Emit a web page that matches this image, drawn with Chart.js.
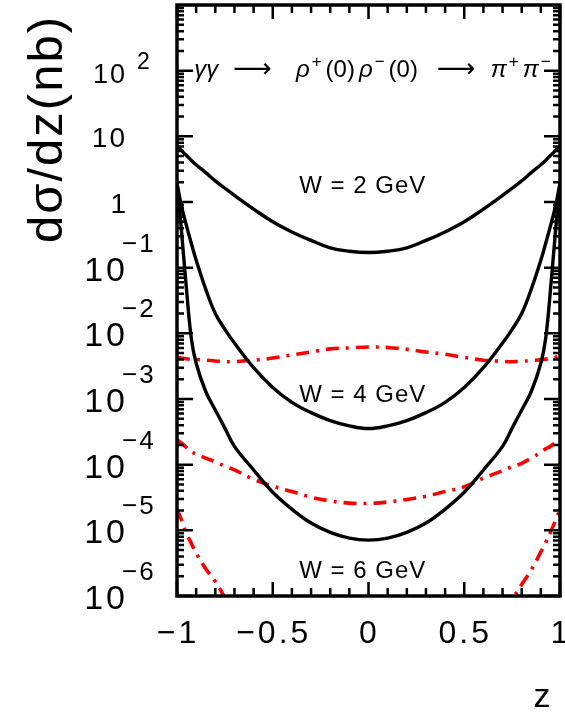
<!DOCTYPE html>
<html>
<head>
<meta charset="utf-8">
<script src="https://cdn.jsdelivr.net/npm/chart.js@4.4.1/dist/chart.umd.min.js"></script>
<style>
html,body{margin:0;padding:0;background:#fff;}
canvas{display:block;}
</style>
</head>
<body>
<canvas id="grafico" width="565" height="721"></canvas>
<script>
// ==============================
// DATOS
// ==============================

const zVals = [-1,-0.975,-0.95,-0.925,-0.9,-0.85,-0.8,-0.75,-0.7,-0.6,-0.5,-0.4,-0.3,-0.2,-0.1,0,
  0.1,0.2,0.3,0.4,0.5,0.6,0.7,0.75,0.8,0.85,0.9,0.925,0.95,0.975,1];

// solid black, W = 2, 4, 6 GeV
const w2 = [7.2,6.0,5.1,4.3,3.7,2.8,2.1,1.62,1.26,0.78,0.50,0.35,0.26,0.20,0.178,0.17,
  0.178,0.20,0.26,0.35,0.50,0.78,1.26,1.62,2.1,2.8,3.7,4.3,5.1,6.0,7.2];
const w4 = [1.9,0.83,0.43,0.234,0.13,0.047,0.02,0.0115,7.1e-3,3.0e-3,1.5e-3,8.9e-4,6.2e-4,4.7e-4,3.9e-4,3.55e-4,
  3.9e-4,4.7e-4,6.2e-4,8.9e-4,1.5e-3,3.0e-3,7.1e-3,0.0115,0.02,0.047,0.13,0.234,0.43,0.83,1.9];
const w6 = [2.0,0.32,0.045,8.3e-3,3.5e-3,1.3e-3,6.8e-4,3.6e-4,1.9e-4,8.3e-5,3.8e-5,2.1e-5,1.29e-5,9.3e-6,7.6e-6,7.1e-6,
  7.6e-6,9.3e-6,1.29e-5,2.1e-5,3.8e-5,8.3e-5,1.9e-4,3.6e-4,6.8e-4,1.3e-3,3.5e-3,8.3e-3,0.045,0.32,2.0];

// red dash-dot
const r2 = [4.3e-3,4.2e-3,4.1e-3,4.0e-3,4.0e-3,3.9e-3,3.8e-3,3.7e-3,3.7e-3,3.9e-3,4.2e-3,4.7e-3,5.2e-3,5.8e-3,6.0e-3,6.2e-3,
  6.1e-3,5.7e-3,5.2e-3,4.8e-3,4.3e-3,3.9e-3,3.75e-3,3.7e-3,3.75e-3,3.85e-3,3.95e-3,4.05e-3,4.15e-3,4.3e-3,4.5e-3];
const r4 = [2.4e-4,2.1e-4,1.82e-4,1.58e-4,1.45e-4,1.26e-4,1.1e-4,9.5e-5,8.3e-5,6.0e-5,4.7e-5,3.9e-5,3.2e-5,2.8e-5,2.6e-5,2.57e-5,
  2.7e-5,2.95e-5,3.3e-5,3.9e-5,4.6e-5,6.2e-5,8.1e-5,9.3e-5,1.05e-4,1.26e-4,1.55e-4,1.74e-4,1.9e-4,2.14e-4,2.3e-4];
const r6 = [2.1e-5,1.4e-5,8.9e-6,6.3e-6,4.5e-6,2.6e-6,1.66e-6,9.5e-7,5.6e-7,2e-7,8e-8,4e-8,2.5e-8,1.8e-8,1.4e-8,1.3e-8,
  1.4e-8,1.8e-8,2.5e-8,4e-8,8e-8,2e-7,5.6e-7,8.9e-7,1.5e-6,2.5e-6,4.7e-6,6.5e-6,9.3e-6,1.38e-5,2.1e-5];

// ejes
const xTicks = [-1,-0.5,0,0.5,1];
const xTickLabels = ["\u22121","\u22120.5","0","0.5","1"];
const yExps = [-6,-5,-4,-3,-2,-1,0,1,2];

// textos (posicion en coordenadas de datos)
const curveLabels = [
  {text:"W = 2 GeV", z:-0.03, y:1.9},
  {text:"W = 4 GeV", z:-0.03, y:1.25e-3},
  {text:"W = 6 GeV", z:-0.03, y:2.6e-6}
];

const FONT = "'Liberation Sans', Arial, 'DejaVu Sans', sans-serif";

function pts(arr){
  return zVals.map((z,i)=>({x:z, y:arr[i]}));
}

function solid(arr){
  return {data:pts(arr), borderColor:"#000", borderWidth:3.4, pointRadius:0,
    tension:0.4, fill:false};
}

function dashDot(arr){
  return {data:pts(arr), borderColor:"#ff0000", borderWidth:3.6, pointRadius:0,
    borderDash:[13,7,3,7], tension:0.4, fill:false};
}

// ==============================
// DIBUJO DE MARCO, TICKS Y TEXTOS
// ==============================

function richText(ctx, parts, x, y){
  parts.forEach(p=>{
    ctx.font = p.font;
    ctx.fillText(p.t, x, y + (p.dy || 0));
    x += ctx.measureText(p.t).width + (p.gap || 0);
  });
}

const marco = {
  id:"marco",
  afterDatasetsDraw(chart){
    const ctx = chart.ctx;
    const a = chart.chartArea;
    const xs = chart.scales.x, ys = chart.scales.y;

    ctx.save();
    ctx.strokeStyle = "#000";
    ctx.fillStyle = "#000";

    // ticks x (abajo y arriba)
    ctx.lineWidth = 2.5;
    for(let i=-10;i<=10;i++){
      const v = i/10;
      const px = xs.getPixelForValue(v);
      const len = (i % 5 === 0) ? 14 : 8;
      ctx.beginPath();
      ctx.moveTo(px, a.bottom); ctx.lineTo(px, a.bottom - len);
      ctx.moveTo(px, a.top); ctx.lineTo(px, a.top + len);
      ctx.stroke();
    }

    // ticks y (izquierda y derecha)
    yExps.forEach(e=>{
      for(let m=1;m<=9;m++){
        const v = m * Math.pow(10,e);
        if(v > ys.max) break;
        const py = ys.getPixelForValue(v);
        const len = (m === 1) ? 16 : 7;
        ctx.beginPath();
        ctx.moveTo(a.left, py); ctx.lineTo(a.left + len, py);
        ctx.moveTo(a.right, py); ctx.lineTo(a.right - len, py);
        ctx.stroke();
      }
    });

    // marco
    ctx.lineWidth = 3.5;
    ctx.strokeRect(a.left, a.top, a.right - a.left, a.bottom - a.top);

    // etiquetas eje x
    ctx.font = "32px " + FONT;
    ctx.textAlign = "center";
    ctx.textBaseline = "alphabetic";
    ctx.letterSpacing = "3px";
    xTicks.forEach((v,i)=>{
      ctx.fillText(xTickLabels[i], xs.getPixelForValue(v) + 1, 643);
    });
    ctx.letterSpacing = "0px";

    // etiquetas eje y
    ctx.textAlign = "right";
    yExps.forEach(e=>{
      const py = ys.getPixelForValue(Math.pow(10,e));
      if(e === 0){
        ctx.font = "28px " + FONT;
        ctx.fillText("1", 126, py + 11);
      } else if(e === 1){
        ctx.font = "28px " + FONT;
        ctx.letterSpacing = "2px";
        ctx.fillText("10", 127, py + 11);
        ctx.letterSpacing = "0px";
      } else if(e === 2){
        ctx.font = "27px " + FONT;
        ctx.letterSpacing = "2px";
        ctx.fillText("10", 127, py + 12);
        ctx.letterSpacing = "0px";
        ctx.textAlign = "left";
        ctx.font = "23px " + FONT;
        ctx.fillText("2", 137, py - 2);
        ctx.textAlign = "right";
      } else {
        ctx.font = "34px " + FONT;
        ctx.letterSpacing = "3px";
        ctx.fillText("10", 128, py + 13);
        ctx.letterSpacing = "0px";
        ctx.textAlign = "left";
        ctx.font = "26px " + FONT;
        ctx.letterSpacing = "2px";
        ctx.fillText("\u2212" + (-e), 122, py - 16);
        ctx.letterSpacing = "0px";
        ctx.textAlign = "right";
      }
    });

    // titulo eje y
    ctx.save();
    ctx.translate(62, 129);
    ctx.rotate(-Math.PI/2);
    ctx.textAlign = "center";
    ctx.font = "49px " + FONT;
    ctx.letterSpacing = "2px";
    ctx.fillText("d\u03c3/dz(nb)", 0, 0);
    ctx.restore();
    ctx.letterSpacing = "0px";

    // titulo eje x
    ctx.textAlign = "center";
    ctx.font = "34px " + FONT;
    ctx.fillText("z", 542, 707);

    // etiquetas de curvas
    ctx.font = "24px " + FONT;
    ctx.letterSpacing = "1px";
    curveLabels.forEach(l=>{
      ctx.fillText(l.text, xs.getPixelForValue(l.z), ys.getPixelForValue(l.y) + 9);
    });
    ctx.letterSpacing = "0px";

    // proceso
    ctx.textAlign = "left";
    const base = "24px " + FONT;
    const ital = "italic 24px " + FONT;
    const sup = "17px " + FONT;
    const flecha = "27px 'DejaVu Sans'";
    richText(ctx, [
      {t:"\u03b3\u03b3", font:ital, gap:15},
      {t:"\u27f6", font:flecha, gap:24},
      {t:"\u03c1", font:ital, gap:2},
      {t:"+", font:sup, dy:-10, gap:4},
      {t:"(0)", font:base, gap:4},
      {t:"\u03c1", font:ital, gap:2},
      {t:"\u2212", font:sup, dy:-10, gap:4},
      {t:"(0)", font:base, gap:19},
      {t:"\u27f6", font:flecha, gap:15},
      {t:"\u03c0", font:ital, gap:2},
      {t:"+", font:sup, dy:-10, gap:4},
      {t:"\u03c0", font:ital, gap:2},
      {t:"\u2212", font:sup, dy:-10}
    ], xs.getPixelForValue(-0.91), ys.getPixelForValue(80));

    ctx.restore();
  }
};

// ==============================
// GRAFICO
// ==============================

const ctxGrafico = document.getElementById("grafico").getContext("2d");

let grafico = new Chart(ctxGrafico, {

type: "line",

data: {
datasets: [ solid(w2), solid(w4), solid(w6), dashDot(r2), dashDot(r4), dashDot(r6) ]
},

options: {
responsive: false,
animation: false,
layout: { padding: { left: 0, top: 5, right: 5, bottom: 0 } },
plugins: {
legend: { display: false },
tooltip: { enabled: false }
},
scales: {
x: {
type: "linear", min: -1, max: 1,
ticks: { display: false },
grid: { display: false },
border: { display: false },
afterFit(s){ s.height = 125; }
},
y: {
type: "logarithmic", min: 1e-6, max: 1e3,
ticks: { display: false },
grid: { display: false },
border: { display: false },
afterFit(s){ s.width = 177; }
}
}
},

plugins: [marco]

});
</script>
</body>
</html>
